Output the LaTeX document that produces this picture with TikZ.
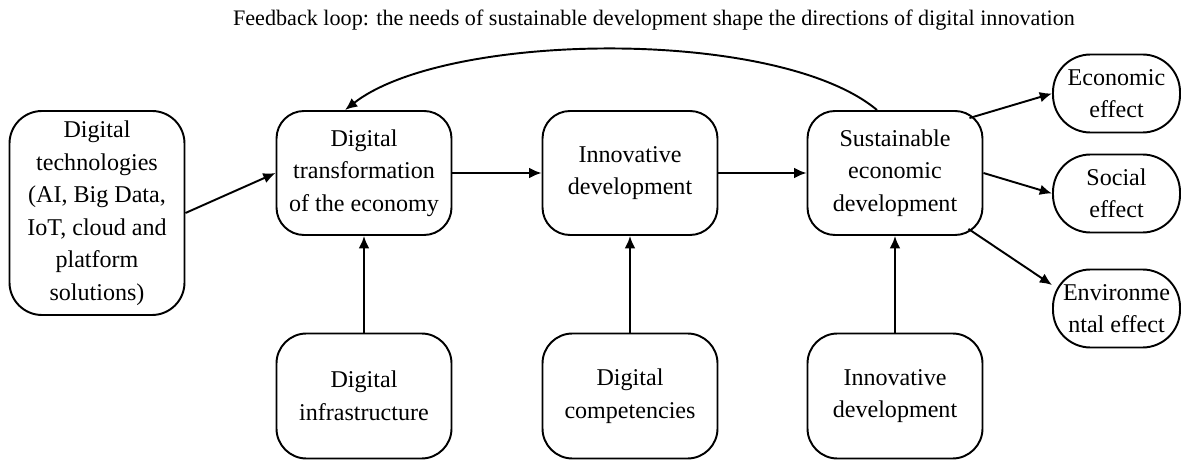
\documentclass[tikz,border=0pt]{standalone}
\usepackage{fontspec}
\setmainfont{Liberation Serif}
\usetikzlibrary{
  arrows.meta
}

\begin{document}
\begin{tikzpicture}[
  box/.style={draw,line width=1.1pt,rounded corners=0.55cm,align=center,
    minimum width=3.5cm,minimum height=2.48cm,inner sep=0pt,
    font=\fontsize{13.7}{18.5}\selectfont},
  effect/.style={box,rounded corners=0.75cm,minimum width=2.54cm,minimum height=1.56cm},
  link/.style={line width=1.1pt,-{Latex[length=7pt,width=6pt]}},
]
\useasboundingbox (0,0) rectangle (23.62,-9.22);
\node[font=\fontsize{12.6}{15}\selectfont] (title) at (13.08,-0.4)
  {Feedback loop: the needs of sustainable development shape the directions of digital innovation};
% main chain
\node[box,minimum height=4.08cm,rounded corners=0.65cm] (tech) at (1.94,-4.26)
  {Digital\\technologies\\(AI, Big Data,\\IoT, cloud and\\platform\\solutions)};
\node[box] (trans) at (7.28,-3.46) {Digital\\transformation\\of the economy};
\node[box] (innov) at (12.6,-3.46) {Innovative\\development};
\node[box] (sust) at (17.9,-3.46) {Sustainable\\economic\\development};
% factors below
\node[box,minimum height=2.5cm,rounded corners=0.6cm] (infra) at (7.28,-7.92) {Digital\\infrastructure};
\node[box,minimum height=2.5cm,rounded corners=0.6cm] (comp) at (12.6,-7.92) {Digital\\competencies};
\node[box,minimum height=2.5cm,rounded corners=0.6cm] (innovB) at (17.9,-7.92) {Innovative\\development};
% effects
\node[effect] (econ) at (22.33,-1.87) {Economic\\effect};
\node[effect] (social) at (22.33,-3.87) {Social\\effect};
\node[effect] (env) at (22.33,-6.17) {Environme\\ntal effect};

\draw[link] (tech.east) -- (trans.west);
\draw[link] (trans) -- (innov);
\draw[link] (innov) -- (sust);
\draw[link] (infra) -- (trans);
\draw[link] (comp) -- (innov);
\draw[link] (innovB) -- (sust);
\draw[link] ([shift={(-0.28,-0.16)}]sust.north east) -- (econ.west);
\draw[link] (sust.east) -- (social.west);
\draw[link] ([shift={(-0.3,0.14)}]sust.south east) -- (env.160);
% feedback loop
\draw[link] ([xshift=-0.36cm]sust.north) to[out=140,in=38,looseness=0.62] ([xshift=-0.38cm]trans.north);
\end{tikzpicture}
\end{document}
